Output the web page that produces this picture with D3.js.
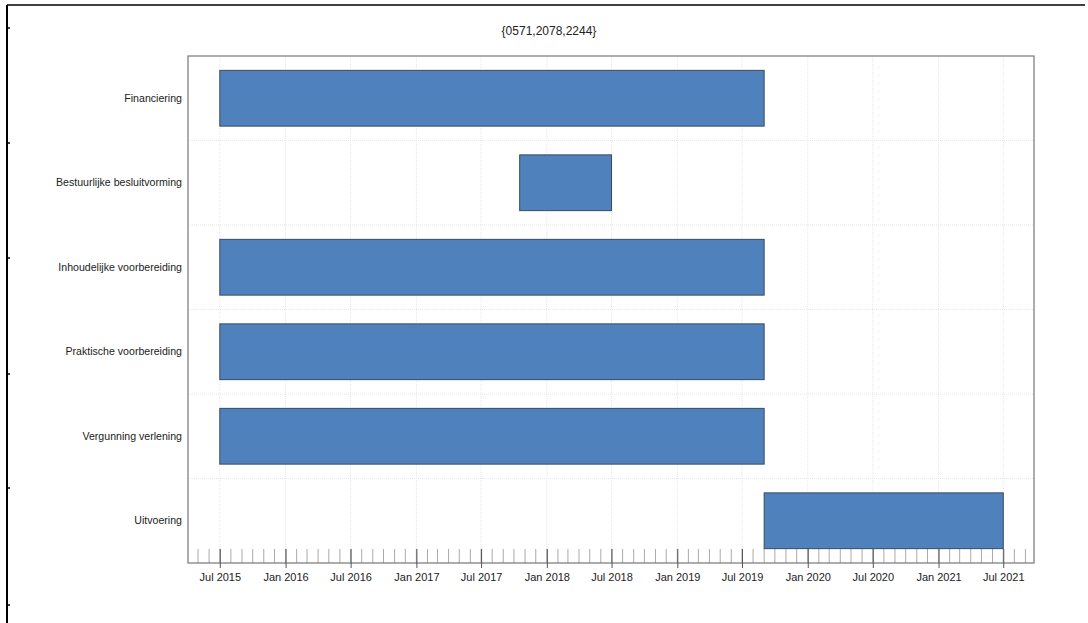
<!DOCTYPE html>
<html><head><meta charset="utf-8">
<script src="https://cdn.jsdelivr.net/npm/d3@7"></script>
<style>html,body{margin:0;padding:0;background:#fff;}svg{display:block;}</style>
</head><body>
<svg id="c" width="1088" height="623"></svg>
<script>
const title = "{0571,2078,2244}";
const tasks = ["Financiering","Bestuurlijke besluitvorming","Inhoudelijke voorbereiding","Praktische voorbereiding","Vergunning verlening","Uitvoering"];
const starts = ["2015-07-01","2017-10-17","2015-07-01","2015-07-01","2015-07-01","2019-09-01"];
const ends   = ["2019-09-01","2018-07-01","2019-09-01","2019-09-01","2019-09-01","2021-07-01"];
const xDomain = ["2015-04-03","2021-09-25"];

const parse = d3.utcParse("%Y-%m-%d");
const data = tasks.map((t,i)=>({task:t,start:parse(starts[i]),end:parse(ends[i])}));

const svg = d3.select("#c");
const L=188, R=1034, T=56, B=563;
const font = "'Liberation Sans', Arial, sans-serif";

// page frame
svg.append("line").attr("x1",7).attr("x2",1085).attr("y1",5).attr("y2",5).attr("stroke","#000").attr("stroke-width",1.5);
svg.append("line").attr("x1",7).attr("x2",7).attr("y1",5).attr("y2",623).attr("stroke","#000").attr("stroke-width",2);
[28,143,258,374,488,605].forEach(y=>svg.append("line").attr("x1",7).attr("x2",10).attr("y1",y).attr("y2",y).attr("stroke","#000").attr("stroke-width",1.5));

svg.append("text").attr("x",549).attr("y",35).attr("text-anchor","middle")
  .attr("font-family",font).attr("font-size",12).attr("fill","#222").text(title);

const x = d3.scaleUtc().domain(xDomain.map(parse)).range([L,R]);
const y = d3.scaleBand().domain(tasks).range([T,B]).paddingInner(0).paddingOuter(0);
const barPad = 0.17;

const major = x.ticks(d3.utcMonth.every(6)).filter(d=>d.getUTCMonth()===0||d.getUTCMonth()===6);
const minor = x.ticks(d3.utcMonth.every(1));

// grid
const g = svg.append("g");
g.selectAll(".vg").data(major).join("line")
  .attr("x1",d=>x(d)).attr("x2",d=>x(d)).attr("y1",T).attr("y2",B)
  .attr("stroke","#e6e6e6").attr("stroke-dasharray","1,1").attr("stroke-width",1);
const bounds = tasks.slice(1).map(t=>y(t));
g.selectAll(".hg").data(bounds).join("line")
  .attr("x1",L).attr("x2",R).attr("y1",d=>d).attr("y2",d=>d)
  .attr("stroke","#e6e6e6").attr("stroke-dasharray","1,1").attr("stroke-width",1);

// minor ticks
svg.append("g").selectAll("line").data(minor).join("line")
  .attr("x1",d=>x(d)).attr("x2",d=>x(d)).attr("y1",B-14).attr("y2",B)
  .attr("stroke","#aaa").attr("stroke-width",1);

// bars
svg.append("g").selectAll("rect").data(data).join("rect")
  .attr("x",d=>x(d.start)).attr("width",d=>x(d.end)-x(d.start))
  .attr("y",d=>y(d.task)+y.bandwidth()*barPad).attr("height",y.bandwidth()*(1-2*barPad))
  .attr("fill","#4f81bd").attr("stroke","#3a4a5e").attr("stroke-width",1);

// frame
svg.append("rect").attr("x",L).attr("y",T).attr("width",R-L).attr("height",B-T)
  .attr("fill","none").attr("stroke","#777").attr("stroke-width",1.2);

// x axis major ticks
const xa = svg.append("g").attr("transform",`translate(0,${B})`)
  .call(d3.axisBottom(x).tickValues(major).tickFormat(d3.utcFormat("%b %Y")).tickSize(5).tickPadding(5));
xa.select(".domain").remove();
xa.selectAll(".tick line").attr("stroke","#555").attr("y1",-14);
xa.selectAll(".tick text").attr("font-family",font).attr("font-size",11).attr("fill","#222");

// y labels
svg.append("g").selectAll("text").data(tasks).join("text")
  .attr("x",182).attr("y",d=>y(d)+y.bandwidth()/2).attr("dy","0.35em")
  .attr("text-anchor","end").attr("font-family",font).attr("font-size",10.6).attr("fill","#222").text(d=>d);
</script>
</body></html>
